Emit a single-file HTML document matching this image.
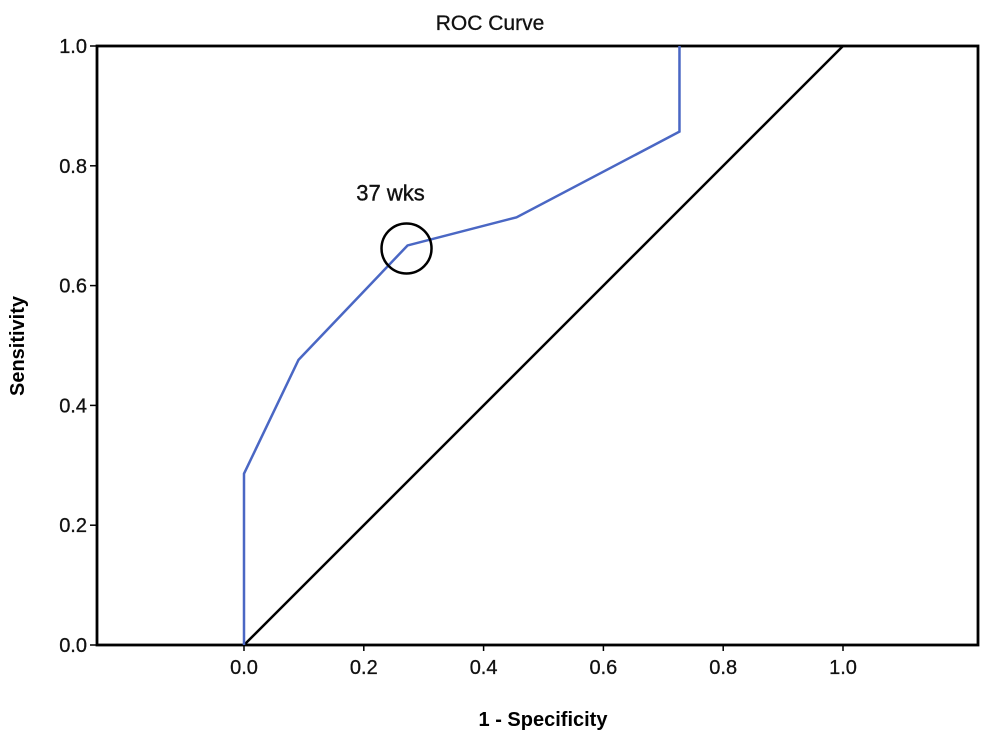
<!DOCTYPE html>
<html><head><meta charset="utf-8"><style>
html,body{margin:0;padding:0;background:#fff;}
svg{display:block;font-family:"Liberation Sans",Arial,sans-serif;}
</style></head><body>
<svg id="chart" width="1000" height="741" viewBox="0 0 1000 741"></svg>
<script>
const xTicks=[0.0,0.2,0.4,0.6,0.8,1.0];
const yTicks=[0.0,0.2,0.4,0.6,0.8,1.0];
const tickLabels=["0.0","0.2","0.4","0.6","0.8","1.0"];
const fpr=[0,0,0.091,0.273,0.455,0.727,0.727];
const tpr=[0,0.286,0.476,0.667,0.714,0.857,1.0];
const refX=[0,1];
const refY=[0,1];
const cutoffX=[0.273];
const cutoffY=[0.667];
const cutoffLabel=["37 wks"];

const NS="http://www.w3.org/2000/svg";
const svg=document.getElementById('chart');
const L=97,R=978,T=46,B=645;
const sx=v=>244+v*599;
const sy=v=>645-v*599;
function mk(tag,attrs,parent){const e=document.createElementNS(NS,tag);for(const k in attrs)e.setAttribute(k,attrs[k]);(parent||svg).appendChild(e);return e;}

const title=mk('text',{x:490,y:30,'text-anchor':'middle','font-size':21,fill:'#111',stroke:'#111','stroke-width':0.3});


title.textContent='ROC Curve';

const frame=mk('rect',{x:L,y:T,width:R-L,height:B-T,fill:'none',stroke:'#000','stroke-width':2.8});



xTicks.forEach((v,i)=>{
  const t=mk('line',{x1:sx(v),x2:sx(v),y1:B,y2:B+6,stroke:'#000','stroke-width':1.5});
  
  
  const l=mk('text',{x:sx(v),y:B+29,'text-anchor':'middle','font-size':20,fill:'#111',stroke:'#111','stroke-width':0.3});
  
  
  l.textContent=tickLabels[i];
});
yTicks.forEach((v,i)=>{
  const t=mk('line',{x1:L-7,x2:L,y1:sy(v),y2:sy(v),stroke:'#000','stroke-width':1.5});
  
  
  const l=mk('text',{x:L-10,y:sy(v)+7,'text-anchor':'end','font-size':20,fill:'#111',stroke:'#111','stroke-width':0.3});
  
  
  l.textContent=tickLabels[i];
});

const xt=mk('text',{x:543,y:726,'text-anchor':'middle','font-size':20,'font-weight':'bold',fill:'#000'});


xt.textContent='1 - Specificity';
const yt=mk('text',{x:0,y:0,'text-anchor':'middle','font-size':20,'font-weight':'bold',fill:'#000',transform:'translate(24,346) rotate(-90)'});


yt.textContent='Sensitivity';

const ref=mk('polyline',{points:refX.map((x,i)=>sx(x)+','+sy(refY[i])).join(' '),fill:'none',stroke:'#000','stroke-width':2.5});



const roc=mk('polyline',{points:fpr.map((x,i)=>sx(x)+','+sy(tpr[i])).join(' '),fill:'none',stroke:'#4a67c4','stroke-width':2.5});



cutoffX.forEach((x,i)=>{
  const c=mk('circle',{cx:sx(x)-1,cy:sy(cutoffY[i])+3,r:25,fill:'none',stroke:'#000','stroke-width':2.5});
  
  
  const t=mk('text',{x:sx(x)-17,y:sy(cutoffY[i])-45,'text-anchor':'middle','font-size':22,fill:'#111',stroke:'#111','stroke-width':0.4});
  
  
  t.textContent=cutoffLabel[i];
});
</script>
</body></html>
